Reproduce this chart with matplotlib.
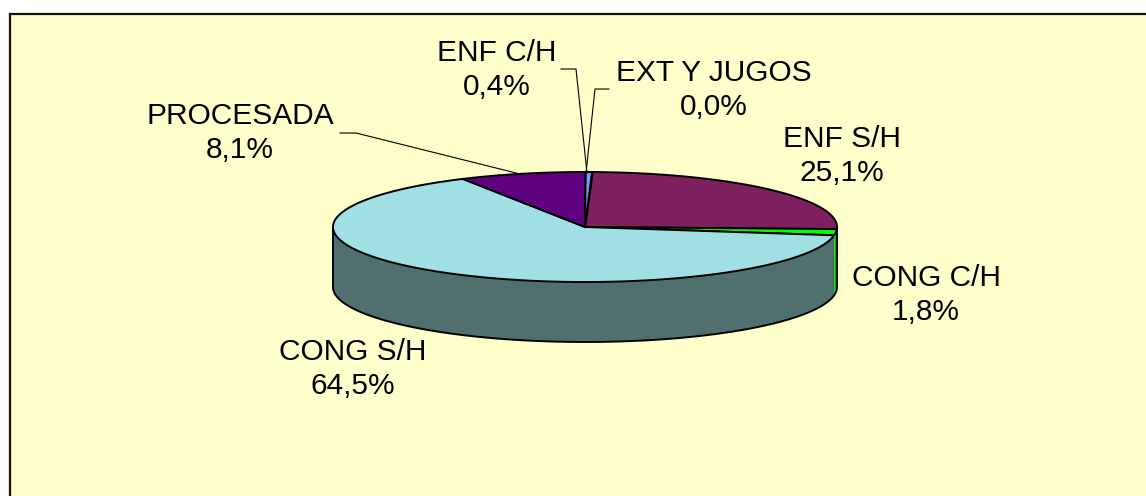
import numpy as np
import matplotlib
matplotlib.use("Agg")
import matplotlib.pyplot as plt
from matplotlib.patches import Polygon, Rectangle

# values in %, clockwise from the top of the pie
labels = ["EXT Y JUGOS", "ENF S/H", "CONG C/H", "CONG S/H", "PROCESADA", "ENF C/H"]
values = [0.05, 25.1, 1.8, 64.5, 8.1, 0.4]
shown = ["0,0%", "25,1%", "1,8%", "64,5%", "8,1%", "0,4%"]
top_colors = ["#FFFFFF", "#7F205E", "#00FF00", "#A0DFE3", "#5F0080", "#7B9BEE"]
side_colors = ["#808080", "#40102E", "#00D000", "#507070", "#300040", "#3D4E77"]

# label centres in pixels, and leader lines for the small slices
label_pos = [(714, 90), (842, 156), (926, 295), (353, 369), (240, 133), (497, 70)]
leaders = {
    0: [(609, 89), (595, 89), (586, 173)],
    4: [(340, 133), (356, 133), (520, 174)],
    5: [(561, 69), (576, 69), (587, 173)],
}

W, H = 1146, 496
cx, cy, rx, ry, depth = 585, 227, 252, 55, 60
start = 1.6

fig = plt.figure(figsize=(W / 100, H / 100), dpi=100, facecolor="white")
ax = fig.add_axes([0, 0, 1, 1])
ax.set_xlim(0, W)
ax.set_ylim(H, 0)
ax.axis("off")

ax.add_patch(Rectangle((10, 14), 1140, 490, fc="#FFFFCC", ec="#111111", lw=1.6, clip_on=False))


def rim(a0, a1):
    t = np.radians(np.linspace(a0, a1, max(int(abs(a1 - a0)) * 2, 2)))
    return np.column_stack([cx + rx * np.sin(t), cy - ry * np.cos(t)])


edges = start + np.cumsum([0] + values) / sum(values) * 360

# side wall, only the front half of the ellipse shows
for i in range(len(values)):
    a0, a1 = max(edges[i], 90), min(edges[i + 1], 270)
    if a1 <= a0:
        continue
    r = rim(a0, a1)
    wall = np.vstack([r, (r + [0, depth])[::-1]])
    ax.add_patch(Polygon(wall, fc=side_colors[i], ec="none", zorder=2))

# outline of the wall, drawn apart so the thin green strip stays visible
front = rim(90, 270) + [0, depth]
outline = np.vstack([rim(90, 90.1), front, rim(269.9, 270)])
ax.plot(outline[:, 0], outline[:, 1], color="black", lw=1.4, zorder=2.5)

# top of the pie
for i in range(len(values)):
    top = np.vstack([[cx, cy], rim(edges[i], edges[i + 1])])
    ax.add_patch(Polygon(top, fc=top_colors[i], ec="black", lw=1.4, zorder=3))

for pts in leaders.values():
    p = np.array(pts)
    ax.plot(p[:, 0], p[:, 1], color="black", lw=0.8, zorder=4)

for (x, y), name, txt in zip(label_pos, labels, shown):
    ax.text(x, y, name + "\n" + txt, ha="center", va="center", fontsize=21.5,
            family="Liberation Sans", color="black", linespacing=1.27, zorder=5)

fig.savefig("out.png", dpi=100)
